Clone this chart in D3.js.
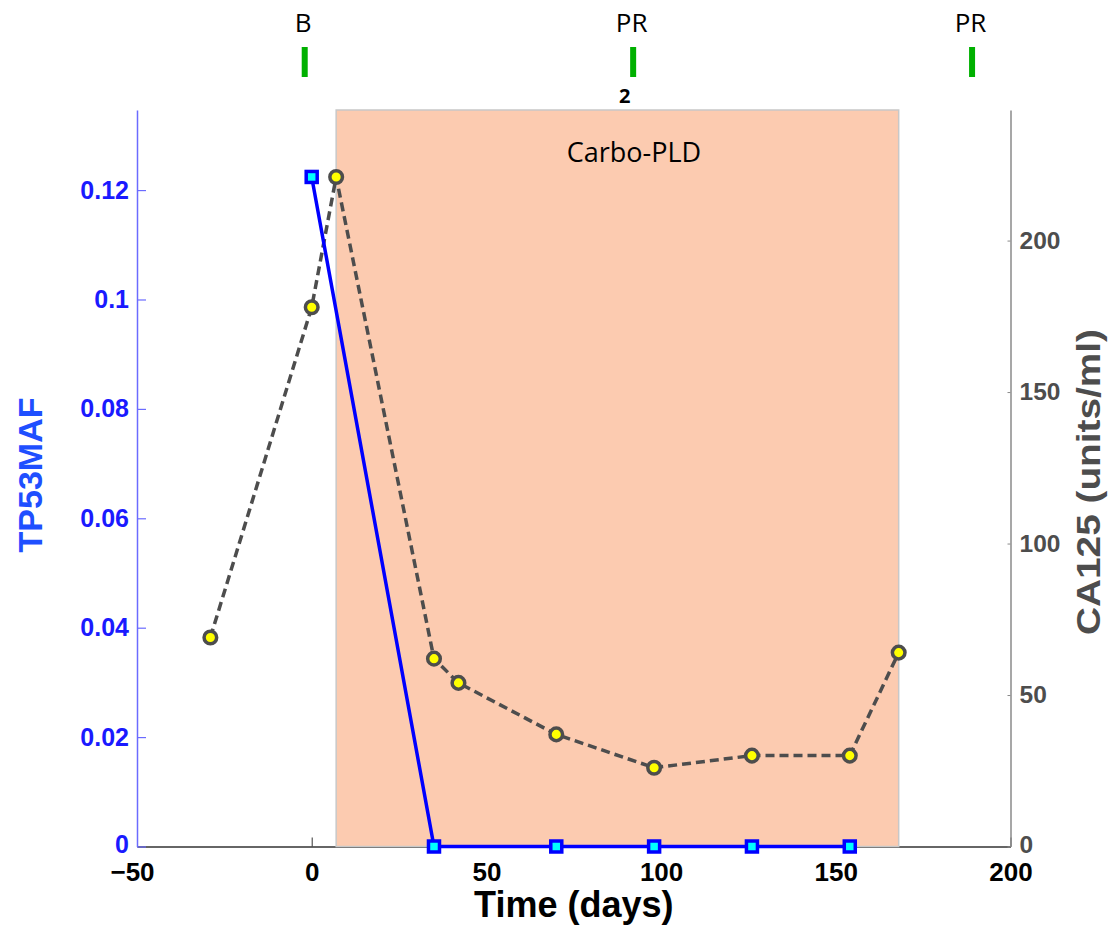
<!DOCTYPE html>
<html>
<head>
<meta charset="utf-8">
<script src="https://cdn.jsdelivr.net/npm/d3@7/dist/d3.min.js"></script>
<style>
  html, body { margin: 0; padding: 0; background: #fff; }
  svg { display: block; }
</style>
</head>
<body>
<svg id="chart" width="1118" height="933"></svg>
<script>
// ---- data ----
const tp53Days = [0, 35, 70, 98, 126, 154];
const tp53MAF = [0.1224, 0, 0, 0, 0, 0];

const ca125Days = [-29, 0, 7, 35, 42, 70, 98, 126, 154, 168];
const ca125Values = [69, 178, 221, 62, 54, 37, 26, 30, 30, 64];

const xTicks = [-50, 0, 50, 100, 150, 200];
const yLeftTicks = [0, 0.02, 0.04, 0.06, 0.08, 0.1, 0.12];
const yRightTicks = [0, 50, 100, 150, 200];

const eventDays = [-2, 92, 189];
const eventLabels = ["B", "PR", "PR"];
const cycleNoteDay = [92];
const cycleNoteText = ["2"];

const treatmentStart = [7];
const treatmentEnd = [168];
const treatmentLabel = ["Carbo-PLD"];
const treatmentLabelDay = [73];

// ---- layout ----
const svg = d3.select("#chart");
const pLeft = 137, pRight = 1010.5, pTop = 110, pBottom = 846.5;

const x = d3.scaleLinear().domain([-50, 200]).range([pLeft, pRight]);
const yL = d3.scaleLinear().domain([0, d3.max(tp53MAF) * 1.1]).range([pBottom, pTop]);
const yR = d3.scaleLinear().domain([0, d3.max(ca125Values) * 1.1]).range([pBottom, pTop]);

const axisFont = "'Liberation Sans', Arial, sans-serif";
const labelFont = "'Open Sans', 'Noto Sans', sans-serif";

// ---- bottom axis ----
const xAxis = svg.append("g").attr("transform", `translate(0,${pBottom})`)
  .call(d3.axisBottom(x).tickValues(xTicks).tickSize(-9).tickSizeOuter(0).tickPadding(0)
    .tickFormat(d3.format("d")));
xAxis.select(".domain").attr("stroke", "#333").attr("stroke-width", 1.5);
xAxis.selectAll(".tick line").attr("stroke", "#333").attr("stroke-width", 1);
xAxis.selectAll(".tick text")
  .attr("y", 34.5).attr("dy", null)
  .attr("dx", d => d < 0 ? -5 : 0)
  .attr("font-family", axisFont).attr("font-weight", "bold").attr("font-size", 26)
  .attr("fill", "#000");

// ---- left axis ----
const yAxisL = svg.append("g").attr("transform", `translate(${pLeft},0)`)
  .call(d3.axisLeft(yL).tickValues(yLeftTicks).tickSize(-9).tickSizeOuter(0).tickPadding(8)
    .tickFormat(d => d === 0 ? "0" : String(+d.toFixed(2))));
yAxisL.select(".domain").attr("stroke", "#6b6bff").attr("stroke-width", 1.5);
yAxisL.selectAll(".tick line").attr("stroke", "#6b6bff").attr("stroke-width", 1.2);
yAxisL.selectAll(".tick text")
  .attr("y", d => d === 0 ? -2 : 0)
  .attr("font-family", axisFont).attr("font-weight", "bold").attr("font-size", 25)
  .attr("fill", "#1a1aff");

// ---- right axis ----
const yAxisR = svg.append("g").attr("transform", `translate(${pRight},0)`)
  .call(d3.axisRight(yR).tickValues(yRightTicks).tickSize(-3).tickSizeOuter(0).tickPadding(9)
    .tickFormat(d3.format("d")));
yAxisR.select(".domain").attr("stroke", "#8a8a8a").attr("stroke-width", 1.5);
yAxisR.selectAll(".tick line").attr("stroke", "#8a8a8a").attr("stroke-width", 1);
yAxisR.selectAll(".tick text")
  .attr("y", d => d === 0 ? -2 : 0)
  .attr("font-family", axisFont).attr("font-weight", "bold").attr("font-size", 24.5)
  .attr("fill", "#4d4d4d");

// ---- treatment shading ----
svg.selectAll("rect.treat").data(treatmentStart).enter().append("rect")
  .attr("class", "treat")
  .attr("x", (d, i) => x(d))
  .attr("width", (d, i) => x(treatmentEnd[i]) - x(d))
  .attr("y", pTop)
  .attr("height", pBottom - pTop)
  .attr("fill", "#fccbb0")
  .attr("stroke", "#c8c8c8")
  .attr("stroke-width", 1.5);

svg.selectAll("text.treat").data(treatmentLabel).enter().append("text")
  .attr("class", "treat")
  .attr("x", (d, i) => x(treatmentLabelDay[i]))
  .attr("y", 162)
  .attr("font-family", labelFont).attr("font-size", 27).attr("fill", "#000")
  .text(d => d);

// ---- event markers ----
svg.selectAll("rect.event").data(eventDays).enter().append("rect")
  .attr("class", "event")
  .attr("x", d => x(d) - 3).attr("width", 6)
  .attr("y", 47).attr("height", 30)
  .attr("fill", "#00b000");

svg.selectAll("text.event").data(eventDays).enter().append("text")
  .attr("class", "event")
  .attr("x", d => x(d) - 1.5).attr("y", 32)
  .attr("text-anchor", "middle")
  .attr("font-family", labelFont).attr("font-size", 26).attr("fill", "#000")
  .text((d, i) => eventLabels[i]);

svg.selectAll("text.cycle").data(cycleNoteDay).enter().append("text")
  .attr("class", "cycle")
  .attr("x", d => x(d) - 8.5).attr("y", 103)
  .attr("text-anchor", "middle")
  .attr("font-family", labelFont).attr("font-weight", "bold").attr("font-size", 20).attr("fill", "#000")
  .text((d, i) => cycleNoteText[i]);

// ---- CA125 series ----
const caData = ca125Days.map((d, i) => [d, ca125Values[i]]);
svg.append("path").datum(caData)
  .attr("fill", "none").attr("stroke", "#4d4d4d").attr("stroke-width", 3.5)
  .attr("stroke-dasharray", "9,5")
  .attr("d", d3.line().x(d => x(d[0])).y(d => yR(d[1])));
svg.selectAll("circle.ca").data(caData).enter().append("circle")
  .attr("class", "ca")
  .attr("cx", d => x(d[0])).attr("cy", d => yR(d[1])).attr("r", 6.3)
  .attr("fill", "#ffff00").attr("stroke", "#4d4d4d").attr("stroke-width", 3.5);

// ---- TP53 series ----
const tpData = tp53Days.map((d, i) => [d, tp53MAF[i]]);
svg.append("path").datum(tpData)
  .attr("fill", "none").attr("stroke", "#0000ff").attr("stroke-width", 3.5)
  .attr("d", d3.line().x(d => x(d[0])).y(d => yL(d[1])));
svg.selectAll("rect.tp").data(tpData).enter().append("rect")
  .attr("class", "tp")
  .attr("x", d => x(d[0]) - 5.5).attr("y", d => yL(d[1]) - 5.5)
  .attr("width", 11).attr("height", 11)
  .attr("fill", "#00ffff").attr("stroke", "#0000ff").attr("stroke-width", 3.5);

// ---- axis titles ----
svg.append("text")
  .attr("x", (pLeft + pRight) / 2).attr("y", 917)
  .attr("text-anchor", "middle")
  .attr("font-family", axisFont).attr("font-weight", "bold").attr("font-size", 36).attr("fill", "#000")
  .text("Time (days)");

svg.append("text")
  .attr("transform", "translate(42,475) rotate(-90)")
  .attr("text-anchor", "middle")
  .attr("font-family", axisFont).attr("font-weight", "bold").attr("font-size", 34).attr("fill", "#1f4fff")
  .text("TP53MAF");

svg.append("text")
  .attr("transform", "translate(1100,482) rotate(-90)")
  .attr("text-anchor", "middle")
  .attr("font-family", axisFont).attr("font-weight", "bold").attr("font-size", 33).attr("fill", "#4d4d4d")
  .attr("textLength", 306).attr("lengthAdjust", "spacingAndGlyphs")
  .text("CA125 (units/ml)");
</script>
</body>
</html>
